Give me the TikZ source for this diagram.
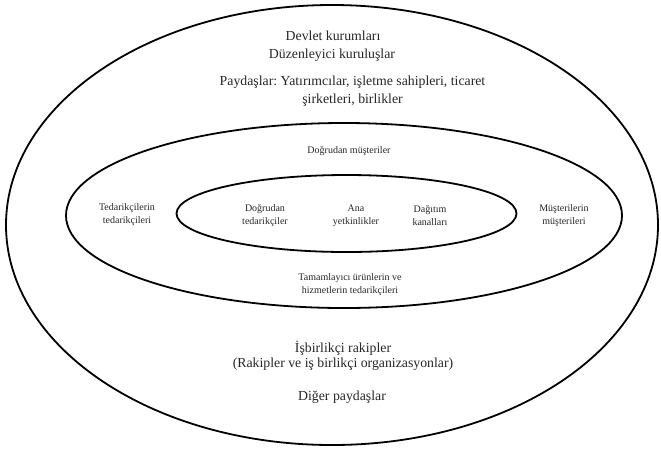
\documentclass[tikz,border=0pt]{standalone}
\usepackage{fontspec}
\setmainfont{Liberation Serif}
\usetikzlibrary{shapes.geometric}
\frenchspacing
\begin{document}
\begin{tikzpicture}[x=1pt,y=-1pt,
  ring/.style={ellipse, draw=black, line width=1.8pt, inner sep=0pt, outer sep=0pt},
  bigtxt/.style={align=center, inner sep=0pt, text=black!85, font=\fontsize{13.8}{18}\selectfont},
  smalltxt/.style={align=center, inner sep=0pt, text=black!85, font=\fontsize{10}{13}\selectfont}]
  \useasboundingbox (0,0) rectangle (661,451);
  % three nested rings
  \node[ring, minimum width=652pt, minimum height=440pt] (outer) at (332,225) {};
  \node[ring, minimum width=556pt, minimum height=185pt] (middle) at (344,215.5) {};
  \node[ring, minimum width=340pt, minimum height=77pt] (inner) at (346.5,213.5) {};
  % outer ring, upper part
  \node[bigtxt] (devlet) at (333,36) {Devlet kurumları};
  \node[bigtxt] (duzen) at (332,55) {Düzenleyici kuruluşlar};
  \node[bigtxt] (paydas) at (352.5,91) {Paydaşlar: Yatırımcılar, işletme sahipleri, ticaret\\şirketleri, birlikler};
  % middle ring
  \node[smalltxt] (dogmus) at (349,151) {Doğrudan müşteriler};
  \node[smalltxt] (tedted) at (127,215) {Tedarikçilerin\\tedarikçileri};
  \node[smalltxt] (musmus) at (564,216) {Müşterilerin\\müşterileri};
  \node[smalltxt] (tamam) at (350,285) {Tamamlayıcı ürünlerin ve\\hizmetlerin tedarikçileri};
  % inner ring
  \node[smalltxt] (dogted) at (265,216) {Doğrudan\\tedarikçiler};
  \node[smalltxt] (ana) at (356,216) {Ana\\yetkinlikler};
  \node[smalltxt] (dagitim) at (430,216) {Dağıtım\\kanalları};
  % outer ring, lower part
  \node[bigtxt, font=\fontsize{13.8}{15}\selectfont] (isbir) at (343,355.5) {İşbirlikçi rakipler\\(Rakipler ve iş birlikçi organizasyonlar)};
  \node[bigtxt] (diger) at (342,397) {Diğer paydaşlar};
\end{tikzpicture}
\end{document}
